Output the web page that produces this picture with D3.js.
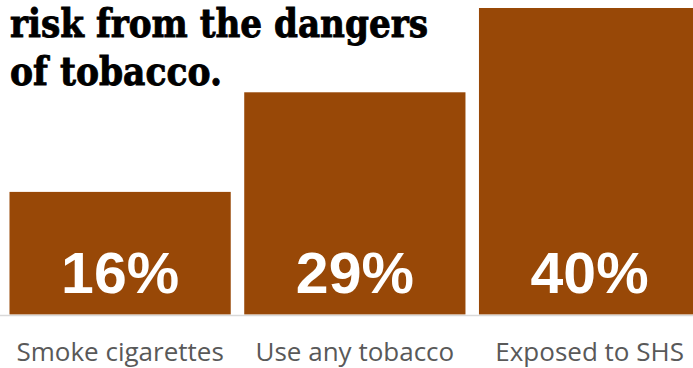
<!DOCTYPE html>
<html>
<head>
<meta charset="utf-8">
<script src="https://cdn.jsdelivr.net/npm/d3@7"></script>
<style>
  html, body { margin: 0; padding: 0; background: #fff; }
  svg { display: block; }
</style>
</head>
<body>
<svg id="chart" width="693" height="368"></svg>
<script>
// DATA
const categories = ["Smoke cigarettes", "Use any tobacco", "Exposed to SHS"];
const values = [16, 29, 40];
const valueLabels = ["16%", "29%", "40%"];
const titleLines = ["risk from the dangers", "of tobacco."];

const svg = d3.select("#chart");
const barColor = "#984807";

// SCALES
const x = d3.scaleBand()
  .domain(categories)
  .range([-4, 713.7])
  .padding(0.0575);

const y = d3.scaleLinear()
  .domain([0, 40])
  .range([314.5, 8]);

// TITLE (partly cut off at the top in the original slide)
svg.append("g")
  .selectAll("text")
  .data(titleLines)
  .enter()
  .append("text")
  .attr("x", 10)
  .attr("y", (d, i) => 37 + i * 48)
  .attr("font-family", "'DejaVu Serif', serif")
  .attr("font-weight", "bold")
  .attr("font-size", 39)
  .attr("fill", "#000")
  .attr("stroke", "#000")
  .attr("stroke-width", 0.9)
  .attr("textLength", (d, i) => (i === 0 ? 418 : 212))
  .attr("lengthAdjust", "spacingAndGlyphs")
  .text((d) => d);

// BARS
svg.append("g")
  .selectAll("rect")
  .data(values)
  .enter()
  .append("rect")
  .attr("x", (d, i) => x(categories[i]))
  .attr("y", (d) => y(d))
  .attr("width", x.bandwidth())
  .attr("height", (d) => y(0) - y(d))
  .attr("fill", barColor);

// AXIS
const axis = svg.append("g")
  .attr("transform", `translate(0,${y(0) + 0.5})`)
  .call(d3.axisBottom(x).tickSize(0).tickSizeOuter(0));

axis.select(".domain")
  .attr("stroke", "#d9d9d9")
  .attr("stroke-width", 1.5);

axis.selectAll(".tick text")
  .attr("y", 46)
  .attr("dy", 0)
  .attr("font-family", "'Open Sans', sans-serif")
  .attr("font-size", 26)
  .attr("fill", "#595959");

// VALUE LABELS
svg.append("g")
  .selectAll("text")
  .data(values)
  .enter()
  .append("text")
  .attr("x", (d, i) => x(categories[i]) + x.bandwidth() / 2)
  .attr("y", y(0) - 22)
  .attr("text-anchor", "middle")
  .attr("font-family", "'Liberation Sans', Arial, sans-serif")
  .attr("font-weight", "bold")
  .attr("font-size", 58)
  .attr("fill", "#fff")
  .attr("textLength", 118)
  .attr("lengthAdjust", "spacingAndGlyphs")
  .text((d, i) => valueLabels[i]);
</script>
</body>
</html>
